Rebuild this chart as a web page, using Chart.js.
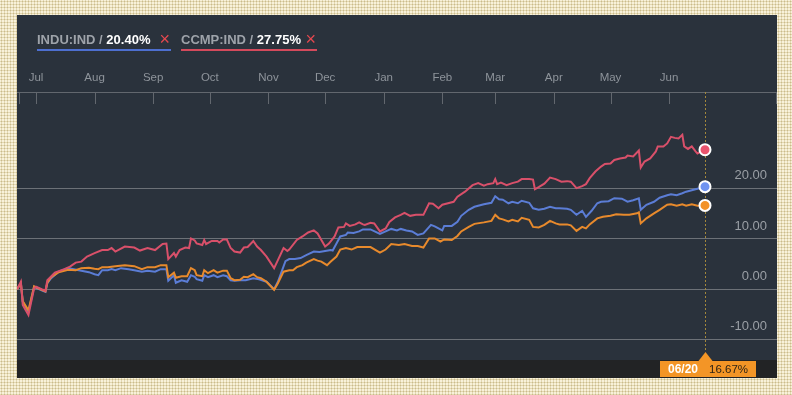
<!DOCTYPE html>
<html><head><meta charset="utf-8">
<script src="https://cdn.jsdelivr.net/npm/chart.js@4"></script>
<style>
html,body{margin:0;padding:0;}
body{width:792px;height:395px;overflow:hidden;position:relative;background-color:#f8f1d9;
 background-image:radial-gradient(circle,#cbbb8a 0.9px,transparent 1.1px);background-size:3px 3px;
 font-family:"Liberation Sans",Arial,sans-serif;}
#panel{position:absolute;left:17px;top:15px;width:760px;height:363px;background:#2a323c;}
#bar{position:absolute;left:17px;top:360px;width:760px;height:18px;background:#222325;}
#c{position:absolute;left:0;top:0;z-index:2;}
.leg{position:absolute;z-index:3;top:32px;height:15px;line-height:15px;font-size:13px;font-weight:bold;padding-bottom:2px;white-space:nowrap;}
.leg .n{color:#9ea3aa;}
.leg .v{color:#ffffff;}
.leg .x{position:absolute;right:1px;top:0;color:#e5484f;font-weight:normal;font-size:18px;line-height:15px;}
</style></head>
<body>
<div id="panel"></div>
<div id="bar"></div>
<div class="leg" id="leg1" style="left:37px;width:134px;border-bottom:2px solid #4d6fd0;"><span class="n">INDU:IND / </span><span class="v" id="v1"></span><span class="x">×</span></div>
<div class="leg" id="leg2" style="left:181px;width:136px;border-bottom:2px solid #d44a5c;"><span class="n">CCMP:IND / </span><span class="v" id="v2"></span><span class="x">×</span></div>
<canvas id="c" width="792" height="395"></canvas>
<script>
// days counted from 2016-06-20 (day 0)
const monthDays=[11,42,73,103,134,164,195,226,254,285,315,346];
const monthLabels=['Jul','Aug','Sep','Oct','Nov','Dec','Jan','Feb','Mar','Apr','May','Jun'];
const yTickValues=[-10,0,10,20];
const tagDate='06/20';

const ccmpDays=[1,3,4,7,10,11,14,16,17,21,26,29,32,35,38,42,46,49,51,53,58,63,66,70,74,78,80,81,84,85,87,90,92,93,95,96,99,100,101,104,107,108,110,112,114,116,119,121,123,126,128,130,133,137,139,142,144,145,149,152,155,158,160,162,164,166,169,171,174,175,177,180,182,184,185,188,190,193,196,198,201,204,206,209,212,216,219,221,224,226,229,232,234,238,242,245,248,250,253,254,255,257,260,263,266,268,272,274,275,277,280,283,286,289,292,294,297,300,302,304,307,310,312,315,317,320,323,324,327,330,331,333,336,339,340,343,345,347,349,351,353,354,356,358,360,361,365];
const ccmpValues=[0,1.5,-3.1,-5.1,0.2,0.5,0,-0.3,1.8,3.3,4.0,4.5,5.3,5.5,6.5,7.2,7.8,7.8,8.2,7.5,8.5,8.3,7.7,8.2,7.8,9.0,9.1,6.0,7.2,6.5,7.8,8.3,8.2,10.1,9.7,9.1,8.8,9.8,9.0,9.6,9.6,9.3,9.9,9.9,8.2,7.5,7.3,8.3,8.4,9.6,8.5,7.8,6.5,4.2,5.8,8.2,7.6,7.9,9.8,10.5,11.3,11.7,11.1,9.8,8.5,9.1,10.5,12.3,12.4,13.1,12.6,12.9,13.3,12.9,12.8,13.2,13.1,11.5,12.1,13.4,14.3,14.8,15.2,14.6,14.8,14.8,17.1,17.0,16.1,16.8,17.1,17.4,18.4,19.4,20.7,21.1,20.6,20.9,21.1,21.9,20.9,21.2,20.7,21.1,21.4,21.9,21.9,21.8,19.9,20.3,21.0,22.2,21.9,21.4,21.5,21.4,20.1,20.5,20.9,22.1,23.4,24.4,24.9,25.0,25.7,26.0,26.2,26.6,26.4,27.6,24.2,25.4,26.0,27.4,28.4,28.4,29.0,30.3,30.1,30.0,30.7,28.4,27.9,28.4,27.4,27.0,27.75];

const induDays=[1,3,4,7,10,11,14,16,17,19,23,28,31,35,39,42,44,46,49,51,53,56,60,63,67,70,74,77,80,81,84,85,88,91,93,95,96,99,100,102,105,107,110,112,114,116,119,122,126,129,133,137,139,143,145,148,151,154,158,161,164,167,168,170,172,175,176,179,182,184,188,193,196,199,202,204,207,210,213,216,220,222,226,227,231,234,236,240,243,248,252,254,256,258,261,263,266,268,272,274,277,280,283,286,288,292,294,297,300,302,305,308,310,314,317,321,324,327,330,331,334,338,341,345,347,350,353,355,358,361,365];
const induValues=[0,1.2,-2.5,-4.5,0.5,0.3,-0.2,-0.5,1.2,2.2,3.5,4.2,4.0,3.7,3.4,3.0,2.8,3.8,3.8,4.0,3.8,4.2,4.0,3.8,3.5,3.7,3.5,4.0,4.0,1.7,2.8,1.3,1.8,1.5,2.8,2.5,2.0,1.7,2.8,2.4,2.8,2.4,2.8,2.6,1.8,1.7,1.8,1.8,2.2,2.0,1.5,0.0,1.5,5.6,6.0,6.0,6.2,6.8,7.5,7.4,7.6,7.8,7.7,9.1,10.5,10.8,11.3,11.2,11.5,11.9,11.9,11.0,11.5,12.0,11.7,12.0,11.7,11.5,10.8,11.1,12.8,12.5,11.7,12.6,12.6,13.4,14.6,15.8,16.4,16.9,17.2,18.5,17.9,17.8,17.1,17.4,17.1,17.6,17.2,16.1,15.8,16.0,16.4,16.1,16.1,16.0,15.8,14.8,15.6,14.4,15.6,17.1,17.4,17.5,18.1,18.0,17.4,17.7,18.1,15.8,16.8,17.4,18.2,18.7,18.9,18.7,19.1,19.4,19.7,20.0,20.4];

const spxDays=[1,3,4,7,10,11,14,16,17,19,23,28,32,35,39,42,44,46,49,53,58,63,67,70,74,77,80,81,84,85,88,91,93,95,96,99,100,102,105,107,110,112,114,116,119,121,123,126,128,130,133,137,139,142,145,147,149,152,154,158,160,162,165,167,170,172,175,178,181,184,188,193,196,199,203,206,210,213,216,219,222,225,227,231,234,236,240,243,248,252,254,256,258,261,263,266,268,272,274,277,280,283,286,288,292,294,297,300,302,304,308,311,315,318,322,325,329,330,331,334,338,341,345,347,350,353,355,358,361,365];
const spxValues=[0,1.2,-2.4,-4.2,0.6,0.4,-0.1,-0.4,1.3,2.4,3.4,3.9,3.8,4.2,4.3,4.1,4.0,4.4,4.4,4.6,4.8,4.6,4.0,4.4,4.4,4.8,4.8,2.4,3.3,2.3,2.6,2.6,4.2,3.8,2.8,2.6,3.8,3.2,3.8,3.3,3.7,3.7,2.2,1.8,1.9,2.5,2.4,3.0,2.4,2.2,1.5,-0.1,1.2,3.5,3.8,3.8,4.4,4.8,5.3,6.0,5.7,5.5,4.8,5.5,6.5,7.9,8.2,7.9,8.4,8.4,8.4,7.3,7.9,9.0,8.8,9.0,8.6,8.6,8.3,10.1,10.1,9.5,9.9,9.8,10.6,11.5,12.4,13.0,13.3,13.6,14.8,14.1,13.9,13.5,13.8,13.5,14.2,13.8,12.4,12.3,12.8,13.6,13.1,12.9,12.9,12.7,11.6,12.4,12.1,12.9,14.1,14.4,14.6,14.9,14.8,14.8,15.1,15.3,13.1,14.1,15.1,15.8,16.8,16.9,16.6,16.9,16.6,16.9,16.6,16.67];

const lastDay=365;
document.getElementById('v1').textContent=induValues[induValues.length-1].toFixed(2)+'%';
document.getElementById('v2').textContent=ccmpValues[ccmpValues.length-1].toFixed(2)+'%';

Chart.defaults.font.family='"Liberation Sans", Arial, sans-serif';

function mk(days,vals){return days.map((d,i)=>({x:d,y:vals[i]}));}
function ds(label,days,vals,line,fill){
  return {label:label,data:mk(days,vals),borderColor:line,borderWidth:2,tension:0,fill:false,
    pointRadius:c=>c.dataIndex===vals.length-1?5.5:0,
    pointHoverRadius:0,pointBackgroundColor:fill,pointBorderColor:'#ffffff',pointBorderWidth:2};
}

const decor={id:'decor',
  beforeDatasetsDraw(chart){
    const ctx=chart.ctx,a=chart.chartArea,x=chart.scales.x;
    ctx.save();
    ctx.strokeStyle='#62676e';ctx.lineWidth=1;
    const ty=Math.round(a.top)+0.5;
    ctx.beginPath();ctx.moveTo(a.left,ty);ctx.lineTo(a.right,ty);ctx.stroke();
    const xs=monthDays.map(d=>x.getPixelForValue(d)).concat([a.left+2,a.right-1]);
    ctx.beginPath();
    xs.forEach(px=>{const p=Math.round(px)+0.5;ctx.moveTo(p,a.top);ctx.lineTo(p,a.top+12);});
    ctx.stroke();
    const ex=Math.round(x.getPixelForValue(lastDay))+0.5;
    ctx.strokeStyle='#a3883c';ctx.setLineDash([2,2]);
    ctx.beginPath();ctx.moveTo(ex,a.top);ctx.lineTo(ex,a.bottom-8);ctx.stroke();
    ctx.restore();
  },
  afterDraw(chart){
    const ctx=chart.ctx,a=chart.chartArea,x=chart.scales.x;
    const ex=Math.round(x.getPixelForValue(lastDay));
    ctx.save();
    ctx.fillStyle='#f39526';
    ctx.fillRect(ex-45,a.bottom+1,96,16);
    ctx.beginPath();ctx.moveTo(ex+0.5,a.bottom-8);ctx.lineTo(ex-6.5,a.bottom+1);ctx.lineTo(ex+7.5,a.bottom+1);ctx.closePath();ctx.fill();
    ctx.textBaseline='alphabetic';ctx.textAlign='left';
    ctx.fillStyle='#ffffff';ctx.font='bold 12px "Liberation Sans", Arial, sans-serif';
    ctx.fillText(tagDate,ex-37,a.bottom+13);
    ctx.fillStyle='#2e2416';ctx.font='11.5px "Liberation Sans", Arial, sans-serif';
    ctx.fillText(spxValues[spxValues.length-1].toFixed(2)+'%',ex+4,a.bottom+13);
    ctx.restore();
  }
};

new Chart(document.getElementById('c'),{
  type:'line',
  data:{datasets:[
    ds('CCMP:IND',ccmpDays,ccmpValues,'#d9506a','#ea546e'),
    ds('SPX',spxDays,spxValues,'#e88a2c','#f39226'),
    ds('INDU:IND',induDays,induValues,'#5b7dd6','#6f93f0')
  ]},
  options:{
    responsive:false,animation:false,devicePixelRatio:1,
    layout:{padding:{left:17,right:15,top:72,bottom:35}},
    plugins:{legend:{display:false},tooltip:{enabled:false}},
    events:[],
    scales:{
      x:{type:'linear',position:'top',min:0.95,max:403.1,
        afterBuildTicks:s=>{s.ticks=monthDays.map(v=>({value:v}));},
        afterFit:s=>{s.height=20;s.paddingLeft=0;s.paddingRight=0;},
        grid:{display:false,drawTicks:false},border:{display:false},
        ticks:{autoSkip:false,maxRotation:0,padding:7,color:'#8e949b',font:{size:11.5},
          callback:v=>monthLabels[monthDays.indexOf(v)]}},
      y:{type:'linear',position:'right',min:-14.06,max:39.22,
        afterBuildTicks:s=>{s.ticks=yTickValues.map(v=>({value:v}));},
        afterFit:s=>{s.width=0;s.paddingTop=0;s.paddingBottom=0;},
        grid:{color:'#6c7177',lineWidth:1,drawTicks:false},border:{display:false},
        ticks:{mirror:true,padding:-10,labelOffset:-13,color:'#9a9fa5',font:{size:13},
          callback:v=>Number(v).toFixed(2)}}
    }
  },
  plugins:[decor]
});
</script>
</body></html>
